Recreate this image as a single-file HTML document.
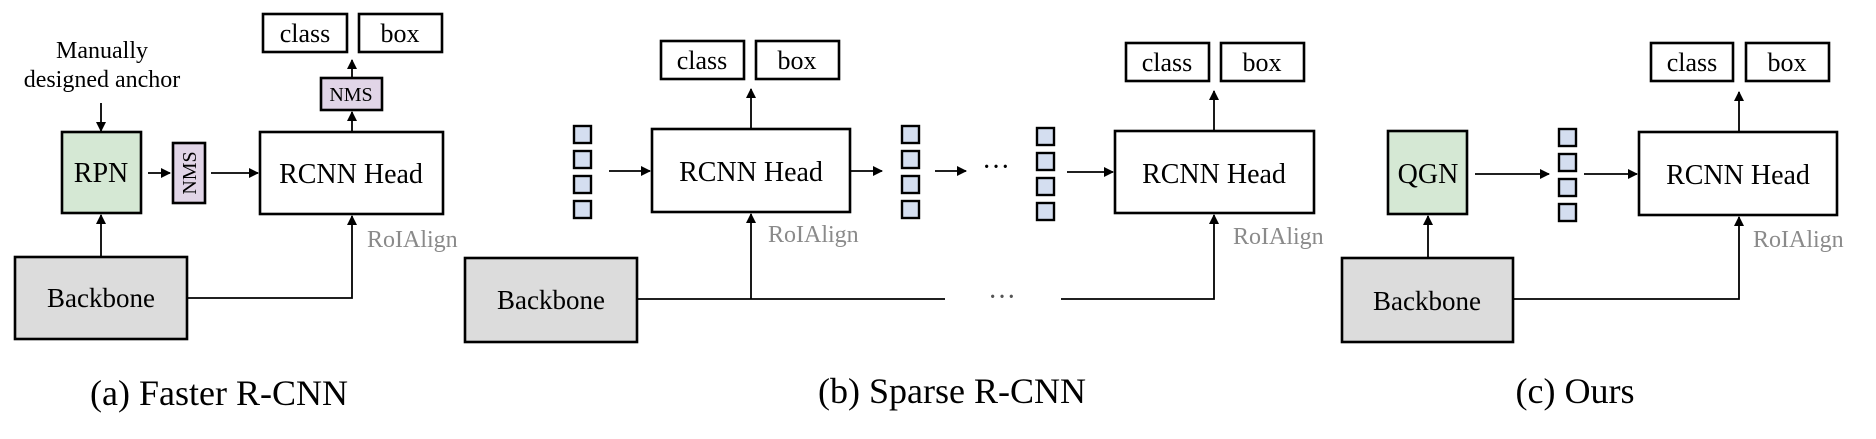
<!DOCTYPE html>
<html><head><meta charset="utf-8"><style>
html,body{margin:0;padding:0;background:#fff;}
svg{display:block;}
text{font-family:"Liberation Serif",serif;fill:#000;}
</style></head><body>
<svg width="1876" height="439" viewBox="0 0 1876 439" xmlns="http://www.w3.org/2000/svg">
<defs>
<marker id="ah" markerWidth="10" markerHeight="10" refX="9" refY="5" orient="auto" markerUnits="userSpaceOnUse">
<path d="M0,0 L10,5 L0,10 z" fill="#000"/>
</marker>
</defs>
<g stroke="#000" stroke-width="1.8" fill="none">
<line x1="101" y1="103" x2="101" y2="131" marker-end="url(#ah)"/>
<line x1="101" y1="257" x2="101" y2="215" marker-end="url(#ah)"/>
<line x1="148" y1="173" x2="170" y2="173" marker-end="url(#ah)"/>
<line x1="211" y1="173" x2="258" y2="173" marker-end="url(#ah)"/>
<polyline points="187,298 352,298 352,216" marker-end="url(#ah)"/>
<line x1="352" y1="131" x2="352" y2="112" marker-end="url(#ah)"/>
<line x1="352" y1="77" x2="352" y2="60" marker-end="url(#ah)"/>
<line x1="609" y1="171" x2="650" y2="171" marker-end="url(#ah)"/>
<line x1="751" y1="129" x2="751" y2="89" marker-end="url(#ah)"/>
<line x1="850" y1="171" x2="882" y2="171" marker-end="url(#ah)"/>
<line x1="935" y1="171" x2="966" y2="171" marker-end="url(#ah)"/>
<line x1="1067" y1="172" x2="1113" y2="172" marker-end="url(#ah)"/>
<line x1="637" y1="299" x2="945" y2="299"/>
<line x1="751" y1="299" x2="751" y2="214" marker-end="url(#ah)"/>
<polyline points="1061,299 1214,299 1214,215" marker-end="url(#ah)"/>
<line x1="1214" y1="131" x2="1214" y2="91" marker-end="url(#ah)"/>
<line x1="1428" y1="258" x2="1428" y2="216" marker-end="url(#ah)"/>
<line x1="1475" y1="174" x2="1549" y2="174" marker-end="url(#ah)"/>
<line x1="1584" y1="174" x2="1637" y2="174" marker-end="url(#ah)"/>
<polyline points="1513,299 1739,299 1739,217" marker-end="url(#ah)"/>
<line x1="1739" y1="132" x2="1739" y2="92" marker-end="url(#ah)"/>
</g>

<g stroke="#000" stroke-width="2.6">
<rect x="263" y="14" width="84" height="38" fill="#fff"/>
<rect x="359" y="14" width="83" height="38" fill="#fff"/>
<rect x="62" y="132" width="79" height="81" fill="#d5e8d4"/>
<rect x="173" y="143" width="32" height="60" fill="#e1d5e7"/>
<rect x="260" y="132" width="183" height="82" fill="#fff"/>
<rect x="321" y="78" width="61" height="32" fill="#e1d5e7"/>
<rect x="15" y="257" width="172" height="82" fill="#dcdcdc"/>
<rect x="661" y="41" width="83" height="38" fill="#fff"/>
<rect x="756" y="41" width="83" height="38" fill="#fff"/>
<rect x="652" y="129" width="198" height="83" fill="#fff"/>
<rect x="1126" y="43" width="83" height="38" fill="#fff"/>
<rect x="1221" y="43" width="83" height="38" fill="#fff"/>
<rect x="1115" y="131" width="199" height="82" fill="#fff"/>
<rect x="465" y="258" width="172" height="84" fill="#dcdcdc"/>
<rect x="1388" y="131" width="79" height="83" fill="#d5e8d4"/>
<rect x="1639" y="132" width="198" height="83" fill="#fff"/>
<rect x="1651" y="43" width="82" height="38" fill="#fff"/>
<rect x="1746" y="43" width="83" height="38" fill="#fff"/>
<rect x="1342" y="258" width="171" height="84" fill="#dcdcdc"/>
</g>

<g stroke="#000" stroke-width="2.4" fill="#d4def0">
<rect x="574" y="126" width="17" height="17"/>
<rect x="574" y="151" width="17" height="17"/>
<rect x="574" y="176" width="17" height="17"/>
<rect x="574" y="201" width="17" height="17"/>
<rect x="902" y="126" width="17" height="17"/>
<rect x="902" y="151" width="17" height="17"/>
<rect x="902" y="176" width="17" height="17"/>
<rect x="902" y="201" width="17" height="17"/>
<rect x="1037" y="128" width="17" height="17"/>
<rect x="1037" y="153" width="17" height="17"/>
<rect x="1037" y="178" width="17" height="17"/>
<rect x="1037" y="203" width="17" height="17"/>
<rect x="1559" y="129" width="17" height="17"/>
<rect x="1559" y="154" width="17" height="17"/>
<rect x="1559" y="179" width="17" height="17"/>
<rect x="1559" y="204" width="17" height="17"/>
</g>

<g font-size="26" text-anchor="middle">
<text x="305" y="42">class</text><text x="400" y="42">box</text>
<text x="702" y="69">class</text><text x="797" y="69">box</text>
<text x="1167" y="71">class</text><text x="1262" y="71">box</text>
<text x="1692" y="71">class</text><text x="1787" y="71">box</text>
</g>
<g font-size="24" text-anchor="middle">
<text x="102" y="58">Manually</text>
<text x="102" y="87">designed anchor</text>
</g>
<g font-size="28" text-anchor="middle">
<text x="101" y="182">RPN</text>
<text x="351" y="183">RCNN Head</text>
<text x="751" y="181">RCNN Head</text>
<text x="1214" y="183">RCNN Head</text>
<text x="1738" y="184">RCNN Head</text>
<text x="1428" y="183">QGN</text>
</g>
<g font-size="27" text-anchor="middle">
<text x="101" y="307">Backbone</text>
<text x="551" y="309">Backbone</text>
<text x="1427" y="310">Backbone</text>
</g>
<g font-size="20" text-anchor="middle">
<text x="351" y="101">NMS</text>
<text transform="translate(196,173) rotate(-90)" text-anchor="middle">NMS</text>
</g>
<g font-size="24">
<text x="367" y="247" style="fill:#8a8a8a">RoIAlign</text>
<text x="768" y="242" style="fill:#8a8a8a">RoIAlign</text>
<text x="1233" y="244" style="fill:#8a8a8a">RoIAlign</text>
<text x="1753" y="247" style="fill:#8a8a8a">RoIAlign</text>
</g>
<g font-size="28" text-anchor="middle">
<text x="996" y="176">···</text>
<text x="1002" y="306" style="fill:#555">···</text>
</g>
<g font-size="36" text-anchor="middle">
<text x="219" y="405">(a) Faster R-CNN</text>
<text x="952" y="403">(b) Sparse R-CNN</text>
<text x="1575" y="403">(c) Ours</text>
</g>
</svg>
</body></html>
